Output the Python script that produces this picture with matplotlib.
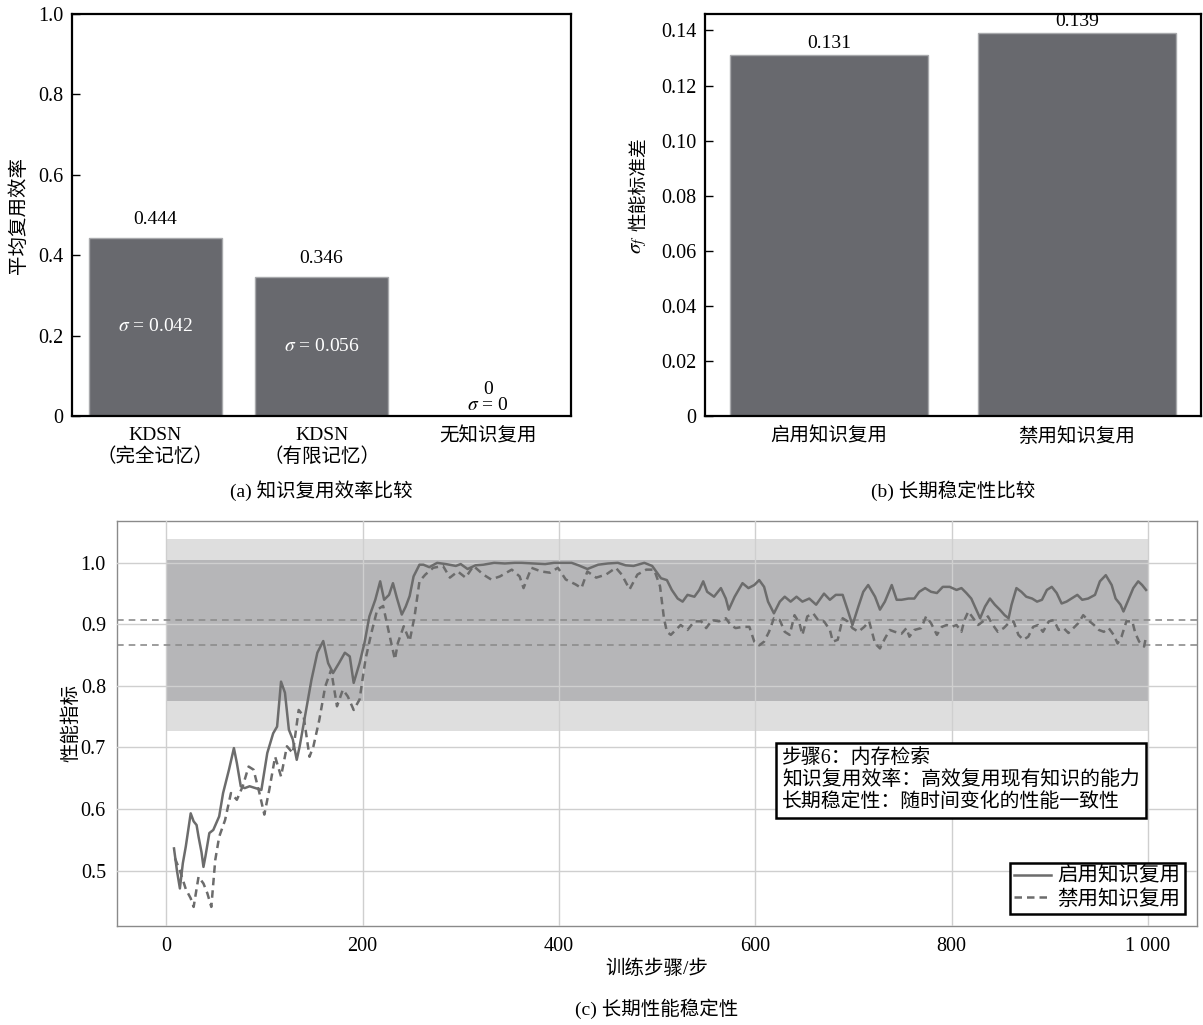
import numpy as np
import matplotlib.pyplot as plt
from matplotlib.ticker import FixedLocator, FuncFormatter

plt.rcParams['font.family'] = ['Liberation Serif', 'Noto Sans CJK SC']
plt.rcParams['mathtext.fontset'] = 'stix'
plt.rcParams['axes.unicode_minus'] = False

# (a) knowledge reuse efficiency
methods = ['KDSN\n（完全记忆）', 'KDSN\n（有限记忆）', '无知识复用']
reuse_eff = [0.444, 0.346, 0.0]
reuse_std = [0.042, 0.056, 0.0]

# (b) long-term stability
modes = ['启用知识复用', '禁用知识复用']
perf_std = [0.131, 0.139]
perf_mean = [0.907, 0.866]

# (c) performance over training, (step, value)
curve_on = [
    (8, 0.536), (11, 0.500), (14, 0.471), (17, 0.512), (20, 0.539), (25, 0.593), (28, 0.580),
    (31, 0.574), (33, 0.555), (36, 0.530), (38, 0.506), (40, 0.523), (44, 0.561), (48, 0.566),
    (54, 0.588), (58, 0.626), (64, 0.664), (69, 0.699), (72, 0.675), (76, 0.637), (80, 0.634),
    (85, 0.637), (91, 0.634), (97, 0.631), (103, 0.691), (109, 0.723), (113, 0.734), (117, 0.807),
    (121, 0.789), (125, 0.729), (129, 0.713), (133, 0.680), (136, 0.702), (142, 0.756), (148, 0.810),
    (154, 0.854), (160, 0.873), (165, 0.837), (170, 0.821), (176, 0.837), (182, 0.854), (187, 0.848),
    (191, 0.805), (197, 0.837), (202, 0.870), (207, 0.913), (213, 0.940), (218, 0.970), (222, 0.940),
    (227, 0.948), (231, 0.967), (235, 0.943), (240, 0.916), (244, 0.929), (248, 0.946), (252, 0.978),
    (258, 0.997), (262, 0.997), (268, 0.993), (276, 1.000), (285, 0.998), (295, 0.995), (300, 0.998),
    (307, 0.990), (315, 0.996), (323, 0.997), (334, 1.000), (345, 0.999), (355, 1.000), (362, 1.000),
    (375, 0.999), (386, 0.998), (395, 1.000), (405, 1.000), (413, 1.000), (420, 0.996), (429, 0.990),
    (440, 0.997), (450, 0.999), (460, 1.000), (468, 0.996), (476, 0.995), (487, 1.000), (495, 0.995),
    (504, 0.975), (510, 0.972), (515, 0.956), (521, 0.942), (526, 0.937), (531, 0.948), (538, 0.945),
    (543, 0.956), (547, 0.970), (551, 0.953), (558, 0.945), (565, 0.959), (570, 0.942), (573, 0.924),
    (579, 0.945), (587, 0.967), (593, 0.959), (599, 0.964), (604, 0.972), (609, 0.961), (613, 0.937),
    (619, 0.918), (625, 0.937), (630, 0.945), (636, 0.937), (642, 0.945), (648, 0.937), (655, 0.942),
    (662, 0.932), (670, 0.950), (676, 0.940), (682, 0.948), (689, 0.948), (694, 0.924), (699, 0.899),
    (705, 0.929), (710, 0.953), (715, 0.964), (722, 0.945), (727, 0.924), (732, 0.937), (739, 0.964),
    (744, 0.940), (749, 0.940), (756, 0.942), (762, 0.942), (767, 0.953), (773, 0.959), (779, 0.953),
    (785, 0.951), (791, 0.961), (798, 0.961), (805, 0.956), (810, 0.959), (815, 0.951), (820, 0.942),
    (825, 0.924), (829, 0.910), (834, 0.929), (839, 0.942), (844, 0.932), (849, 0.924), (854, 0.915),
    (858, 0.910), (861, 0.932), (866, 0.959), (871, 0.953), (876, 0.945), (882, 0.942), (887, 0.937),
    (892, 0.940), (897, 0.956), (902, 0.961), (907, 0.951), (912, 0.934), (917, 0.937), (922, 0.942),
    (928, 0.948), (933, 0.940), (939, 0.942), (946, 0.948), (951, 0.970), (957, 0.980), (963, 0.964),
    (967, 0.942), (972, 0.932), (975, 0.921), (980, 0.940), (985, 0.959), (990, 0.970), (994, 0.964),
    (998, 0.956),
]
curve_off = [
    (9, 0.520), (14, 0.500), (20, 0.470), (25, 0.455), (28, 0.441), (33, 0.490), (38, 0.479),
    (42, 0.463), (46, 0.441), (50, 0.517), (54, 0.555), (60, 0.582), (66, 0.626), (72, 0.615),
    (78, 0.637), (84, 0.669), (89, 0.664), (95, 0.626), (100, 0.591), (105, 0.631), (111, 0.685),
    (117, 0.653), (123, 0.702), (129, 0.691), (135, 0.761), (140, 0.751), (146, 0.685), (150, 0.702),
    (156, 0.745), (162, 0.799), (168, 0.826), (174, 0.767), (180, 0.794), (185, 0.783), (191, 0.761),
    (197, 0.778), (203, 0.843), (209, 0.886), (215, 0.924), (221, 0.930), (227, 0.886), (233, 0.843),
    (236, 0.870), (242, 0.897), (248, 0.873), (253, 0.913), (258, 0.970), (264, 0.981), (272, 0.992),
    (282, 0.995), (289, 0.976), (297, 0.986), (305, 0.976), (313, 0.995), (323, 0.981), (331, 0.973),
    (340, 0.978), (352, 0.989), (360, 0.978), (364, 0.959), (372, 0.992), (382, 0.986), (391, 0.984),
    (399, 0.992), (407, 0.973), (417, 0.965), (423, 0.959), (429, 0.986), (438, 0.976), (448, 0.981),
    (458, 0.992), (464, 0.981), (472, 0.957), (480, 0.981), (489, 0.989), (497, 0.989), (503, 0.962),
    (507, 0.910), (510, 0.888), (514, 0.883), (519, 0.891), (524, 0.899), (531, 0.891), (538, 0.905),
    (545, 0.905), (550, 0.894), (556, 0.907), (563, 0.905), (570, 0.910), (575, 0.899), (580, 0.894),
    (587, 0.896), (594, 0.896), (599, 0.872), (604, 0.866), (609, 0.872), (614, 0.888), (619, 0.910),
    (625, 0.907), (630, 0.888), (635, 0.883), (640, 0.915), (645, 0.902), (648, 0.883), (653, 0.913),
    (659, 0.918), (664, 0.907), (670, 0.905), (676, 0.891), (679, 0.872), (684, 0.875), (689, 0.910),
    (694, 0.905), (699, 0.894), (705, 0.888), (711, 0.896), (716, 0.905), (722, 0.869), (727, 0.861),
    (732, 0.877), (737, 0.891), (742, 0.888), (749, 0.885), (754, 0.894), (757, 0.880), (762, 0.891),
    (769, 0.894), (774, 0.913), (779, 0.902), (785, 0.883), (790, 0.896), (795, 0.899), (800, 0.896),
    (805, 0.899), (810, 0.888), (813, 0.907), (817, 0.921), (822, 0.910), (827, 0.899), (832, 0.905),
    (837, 0.913), (842, 0.899), (847, 0.888), (853, 0.894), (858, 0.902), (863, 0.905), (868, 0.883),
    (873, 0.875), (878, 0.880), (883, 0.896), (888, 0.899), (893, 0.888), (899, 0.905), (904, 0.907),
    (909, 0.891), (914, 0.894), (919, 0.886), (924, 0.894), (929, 0.902), (934, 0.915), (939, 0.907),
    (945, 0.899), (950, 0.891), (955, 0.888), (960, 0.894), (965, 0.883), (969, 0.869), (973, 0.880),
    (978, 0.905), (984, 0.905), (987, 0.886), (991, 0.872), (996, 0.864), (998, 0.880),
]
x_ticks = [0, 200, 400, 600, 800, 1000]
x_tick_labels = ['0', '200', '400', '600', '800', '1 000']
note_lines = ['步骤6：内存检索', '知识复用效率：高效复用现有知识的能力', '长期稳定性：随时间变化的性能一致性']

BAR = '#68696e'
BAR_EDGE = '#a8a9ac'
LINE = '#6c6c6c'


def zero_fmt(fmt):
    return FuncFormatter(lambda v, _: '0' if abs(v) < 1e-9 else fmt.format(v))


def style_bar_axes(ax):
    for sp in ax.spines.values():
        sp.set_linewidth(1.6)
        sp.set_color('black')
    ax.tick_params(axis='y', direction='in', length=6, width=1, labelsize=14.5, pad=6)
    ax.tick_params(axis='x', length=0, labelsize=14, pad=8)


fig = plt.figure(figsize=(12.03, 10.25), dpi=100)
ax1 = fig.add_axes([0.0599, 0.5941, 0.4148, 0.3922])
ax2 = fig.add_axes([0.586, 0.5941, 0.4123, 0.3922])
ax3 = fig.add_axes([0.0973, 0.0966, 0.8978, 0.3951])

# --- (a) reuse efficiency bars
x1 = np.arange(len(methods))
ax1.bar(x1, reuse_eff, width=0.8, color=BAR, edgecolor=BAR_EDGE, linewidth=1)
for xi, h, s in zip(x1, reuse_eff, reuse_std):
    if h > 0:
        ax1.text(xi, h + 0.025, f'{h:.3f}', ha='center', va='bottom', fontsize=14)
        ax1.text(xi, h / 2, rf'$\sigma$ = {s:.3f}', ha='center', va='center',
                 fontsize=14, color='white')
    else:
        ax1.text(xi, 0.004, rf'$\sigma$ = {s:g}', ha='center', va='bottom', fontsize=14)
        ax1.text(xi, 0.045, f'{h:g}', ha='center', va='bottom', fontsize=14)
ax1.set_xlim(-0.5, 2.5)
ax1.set_ylim(0, 1.0)
ax1.set_xticks(x1)
ax1.set_xticklabels(methods)
ax1.yaxis.set_major_locator(FixedLocator([0, 0.2, 0.4, 0.6, 0.8, 1.0]))
ax1.yaxis.set_major_formatter(zero_fmt('{:.1f}'))
style_bar_axes(ax1)
ax1.set_ylabel('平均复用效率', fontsize=14)
ax1.yaxis.set_label_coords(-0.088, 0.5)

# --- (b) stability bars
x2 = np.arange(len(modes))
ax2.bar(x2, perf_std, width=0.8, color=BAR, edgecolor=BAR_EDGE, linewidth=1)
for xi, h in zip(x2, perf_std):
    ax2.text(xi, h + 0.0012, f'{h:.3f}', ha='center', va='bottom', fontsize=14)
ax2.set_xlim(-0.5, 1.5)
ax2.set_ylim(0, max(perf_std) * 1.05)
ax2.set_xticks(x2)
ax2.set_xticklabels(modes)
ax2.yaxis.set_major_locator(FixedLocator(np.arange(0, 0.141, 0.02)))
ax2.yaxis.set_major_formatter(zero_fmt('{:.2f}'))
style_bar_axes(ax2)
ax2.text(-0.131, 0.578, '性能标准差', rotation=90, ha='center', va='center',
         fontsize=13.5, transform=ax2.transAxes)
ax2.text(-0.131, 0.425, r'$\sigma_f$', rotation=90, ha='center', va='center',
         fontsize=15, transform=ax2.transAxes)

# --- (c) performance curves with mean +/- std bands
band_x = [0, 1000]
for m, s in zip(perf_mean, perf_std):
    ax3.fill_between(band_x, m - s, m + s, color='#dedede', linewidth=0, zorder=1)
lo = max(m - s for m, s in zip(perf_mean, perf_std))
hi = min(m + s for m, s in zip(perf_mean, perf_std))
ax3.fill_between(band_x, lo, hi, color='#b6b6b8', linewidth=0, zorder=1.1)

steps_on, perf_on = zip(*curve_on)
steps_off, perf_off = zip(*curve_off)
ax3.plot(steps_on, perf_on, color=LINE, lw=1.8, label=modes[0], zorder=3)
ax3.plot(steps_off, perf_off, color=LINE, lw=1.8, ls=(0, (3, 2)), label=modes[1], zorder=3)
for m in perf_mean:
    ax3.axhline(m, color='#8c8c8c', lw=1.2, ls=(0, (4, 3)), zorder=2.6)

ax3.set_xlim(-50, 1050)
ax3.set_ylim(0.41, 1.068)
ax3.set_xticks(x_ticks)
ax3.set_xticklabels(x_tick_labels)
ax3.yaxis.set_major_locator(FixedLocator([0.5, 0.6, 0.7, 0.8, 0.9, 1.0]))
ax3.yaxis.set_major_formatter(FuncFormatter(lambda v, _: f'{v:.1f}'))
ax3.set_axisbelow(False)
ax3.grid(True, color='#cfcfcf', lw=1)
ax3.tick_params(length=0, labelsize=14.5, pad=8)
for sp in ax3.spines.values():
    sp.set_color('#8a8a8a')
    sp.set_linewidth(1)
ax3.set_xlabel('训练步骤/步', fontsize=14)
ax3.xaxis.set_label_coords(0.5, -0.084)
ax3.set_ylabel('性能指标', fontsize=14)
ax3.yaxis.set_label_coords(-0.034, 0.5)

ax3.text(0.616, 0.437, '\n'.join(note_lines), transform=ax3.transAxes, ha='left', va='top',
         fontsize=14.3, zorder=6,
         bbox=dict(boxstyle='square,pad=0.3', fc='white', ec='black', lw=1.8))

leg = ax3.legend(loc='lower right', fontsize=14.8, frameon=True, fancybox=False,
                 edgecolor='black', framealpha=1, borderpad=0.2, labelspacing=0.15,
                 handlelength=1.8, handletextpad=0.3, borderaxespad=0.6)
leg.get_frame().set_linewidth(1.8)

# panel captions
fig.text(0.2668, 0.521, '(a) 知识复用效率比较', ha='center', va='center', fontsize=14)
fig.text(0.792, 0.521, '(b) 长期稳定性比较', ha='center', va='center', fontsize=14)
fig.text(0.546, 0.0156, '(c) 长期性能稳定性', ha='center', va='center', fontsize=14)

fig.savefig('out.png', dpi=100)
